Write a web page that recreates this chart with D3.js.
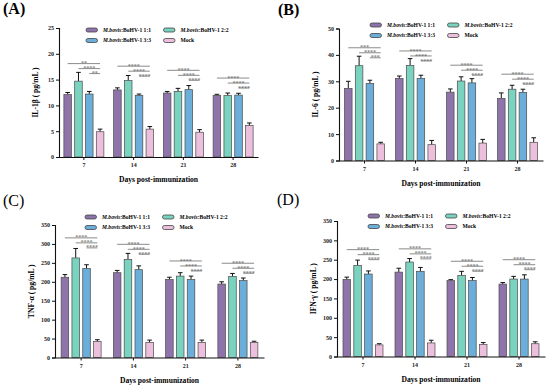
<!DOCTYPE html>
<meta charset="utf-8">
<script src="https://d3js.org/d3.v7.min.js"></script>
<style>
  body { margin: 0; background: #fff; }
  text { font-family: "Liberation Serif", "Times New Roman", serif; font-weight: bold; }
</style>
<div id="my_dataviz"></div>
<script>

// categories
var days = ["7", "14", "21", "28"];
var groups = ["1:1", "2:2", "3:3", "Mock"];
var colors = ["#8e74ab", "#79d3bf", "#6aaed9", "#ecbfdd"];

// IL-1β (A)
var il1bMean = [[12.1, 14.7, 12.2, 4.9], [13.0, 14.8, 11.95, 5.4], [12.4, 12.7, 13.05, 4.8], [11.95, 11.9, 12.0, 6.1]];
var il1bErr = [[0.4, 1.7, 0.5, 0.5], [0.4, 1.0, 0.25, 0.5], [0.3, 0.6, 0.8, 0.5], [0.2, 0.5, 0.35, 0.5]];
var il1bStars = [["**", "****", "**"], ["****", "****", "****"], ["****", "****", "****"], ["****", "****", "****"]];
var il1bBracket = [18.1, 17.6, 16.8, 15.3];
var il1bTicks = [0, 5, 10, 15, 20, 25];

// IL-6 (B)
var il6Mean = [[27.3, 35.9, 29.2, 6.3], [31.1, 36.0, 31.1, 6.0], [25.9, 30.1, 29.4, 6.6], [23.5, 27.0, 25.8, 6.9]];
var il6Err = [[2.7, 3.6, 1.2, 0.6], [0.9, 2.6, 1.2, 1.6], [1.2, 1.6, 1.6, 1.4], [2.1, 1.5, 1.2, 1.7]];
var il6Stars = [["***", "****", "***"], ["****", "****", "****"], ["****", "****", "****"], ["****", "****", "****"]];
var il6Bracket = [42.7, 41.5, 36.1, 32.7];
var il6Ticks = [0, 10, 20, 30, 40, 50];

// TNF-α (C)
var tnfMean = [[212, 263, 235, 42], [224, 259, 232, 40], [206, 215, 206, 40], [194, 214, 203, 40]];
var tnfErr = [[7, 25, 10, 5], [6, 16, 10, 6], [6, 9, 9, 6], [6, 8, 7, 3]];
var tnfStars = [["****", "****", "****"], ["****", "****", "****"], ["****", "****", "****"], ["****", "****", "****"]];
var tnfBracket = [316, 299, 255, 249];
var tnfTicks = [0, 50, 100, 150, 200, 250, 300, 350];

// IFN-γ (D)
var ifnMean = [[199, 235, 213, 30], [218, 244, 220, 35], [196, 209, 196, 31], [187, 200, 200, 33]];
var ifnErr = [[6, 14, 8, 3], [10, 9, 10, 7], [2.5, 11, 8, 5], [4, 7, 11, 5]];
var ifnStars = [["****", "****", "****"], ["****", "****", "****"], ["****", "****", "****"], ["****", "****", "****"]];
var ifnBracket = [276, 278, 246, 250];
var ifnTicks = [0, 50, 100, 150, 200, 250, 300, 350];

var panels = [
  {tag: "(A)", tagBold: true, tx: 3, ty: 14, x0: 59, x1: 258, yTop: 28, yBot: 157, max: 25, ticks: il1bTicks,
   mean: il1bMean, err: il1bErr, stars: il1bStars, bracket: il1bBracket, ylab: "IL-1β ( pg/mL )", lx: 86, ly: 30},
  {tag: "(B)", tagBold: true, tx: 278, ty: 15, x0: 339, x1: 543, yTop: 28.5, yBot: 160.5, max: 50, ticks: il6Ticks,
   mean: il6Mean, err: il6Err, stars: il6Stars, bracket: il6Bracket, ylab: "IL-6 ( pg/mL )", lx: 370, ly: 25},
  {tag: "(C)", tagBold: false, tx: 3, ty: 206, x0: 55, x1: 264, yTop: 225, yBot: 357.5, max: 350, ticks: tnfTicks,
   mean: tnfMean, err: tnfErr, stars: tnfStars, bracket: tnfBracket, ylab: "TNF-α ( pg/mL )", lx: 85, ly: 217},
  {tag: "(D)", tagBold: false, tx: 277, ty: 205, x0: 337, x1: 545, yTop: 221, yBot: 356.5, max: 350, ticks: ifnTicks,
   mean: ifnMean, err: ifnErr, stars: ifnStars, bracket: ifnBracket, ylab: "IFN-γ ( pg/mL )", lx: 368, ly: 216}
];

var svg = d3.select("#my_dataviz")
  .append("svg")
    .attr("width", 550)
    .attr("height", 386);

panels.forEach(function(p) {
  var g = svg.append("g");

  var x = d3.scaleBand().domain(days).range([p.x0, p.x1]);
  var xs = d3.scaleBand().domain(groups).range([-20, 20]).paddingInner(0.3);
  var y = d3.scaleLinear().domain([0, p.max]).range([p.yBot, p.yTop]);

  // panel tag
  g.append("text")
    .attr("x", p.tx).attr("y", p.ty)
    .style("font-size", "16px")
    .style("font-weight", p.tagBold ? "bold" : "normal")
    .text(p.tag);

  // bars
  days.forEach(function(d, i) {
    var cx = x(d) + x.bandwidth() / 2;
    var rows = groups.map(function(k, j) { return {k: k, j: j, v: p.mean[i][j], e: p.err[i][j]}; });

    // error bars (upper only)
    g.selectAll(null).data(rows).enter().append("line")
      .attr("x1", function(r) { return cx + xs(r.k) + xs.bandwidth() / 2; })
      .attr("x2", function(r) { return cx + xs(r.k) + xs.bandwidth() / 2; })
      .attr("y1", function(r) { return y(r.v); })
      .attr("y2", function(r) { return y(r.v + r.e); })
      .attr("stroke", "#111").attr("stroke-width", 1);
    g.selectAll(null).data(rows).enter().append("line")
      .attr("x1", function(r) { return cx + xs(r.k) + xs.bandwidth() / 2 - 2.3; })
      .attr("x2", function(r) { return cx + xs(r.k) + xs.bandwidth() / 2 + 2.3; })
      .attr("y1", function(r) { return y(r.v + r.e); })
      .attr("y2", function(r) { return y(r.v + r.e); })
      .attr("stroke", "#111").attr("stroke-width", 1);

    g.selectAll(null).data(rows).enter().append("rect")
      .attr("x", function(r) { return cx + xs(r.k); })
      .attr("y", function(r) { return y(r.v); })
      .attr("width", xs.bandwidth())
      .attr("height", function(r) { return y(0) - y(r.v); })
      .attr("fill", function(r) { return colors[r.j]; })
      .attr("stroke", "#4a4a4a").attr("stroke-width", 0.7);

    // significance brackets: each group vs Mock
    var xMock = cx + xs("Mock") + xs.bandwidth() / 2;
    [0, 1, 2].forEach(function(j) {
      var ly = y(p.bracket[i]) + j * 5;
      var xa = cx + xs(groups[j]) + xs.bandwidth() / 2;
      g.append("line")
        .attr("x1", xa).attr("x2", xMock)
        .attr("y1", ly).attr("y2", ly)
        .attr("stroke", "#8a8a8a").attr("stroke-width", 1);
      g.append("text")
        .attr("x", (xa + xMock) / 2).attr("y", ly + 1.6)
        .attr("text-anchor", "middle")
        .style("font-size", "6px").style("font-weight", "normal")
        .attr("fill", "#555")
        .text(p.stars[i][j]);
    });
  });

  // axes
  var yAxis = g.append("g")
    .attr("transform", "translate(" + p.x0 + ",0)")
    .call(d3.axisLeft(y).tickValues(p.ticks).tickSize(3).tickPadding(2));
  var xAxis = g.append("g")
    .attr("transform", "translate(0," + p.yBot + ")")
    .call(d3.axisBottom(x).tickSize(3).tickPadding(3).tickSizeOuter(0));
  [xAxis, yAxis].forEach(function(a) {
    a.select(".domain").attr("stroke", "#111").attr("stroke-width", 1.1);
    a.selectAll(".tick line").attr("stroke", "#111").attr("stroke-width", 1);
    a.selectAll(".tick text").style("font-family", "Liberation Serif").style("font-weight", "bold")
      .style("font-size", "6px").attr("fill", "#222");
  });

  // axis titles
  g.append("text")
    .attr("x", (p.x0 + p.x1) / 2).attr("y", p.yBot + 25)
    .attr("text-anchor", "middle")
    .style("font-size", "7.6px")
    .text("Days post-immunization");
  g.append("text")
    .attr("transform", "translate(" + (p.x0 - 21) + "," + ((p.yTop + p.yBot) / 2) + ") rotate(-90)")
    .attr("text-anchor", "middle")
    .style("font-size", "7.6px")
    .text(p.ylab);

  // legend
  groups.forEach(function(k, j) {
    var lx = p.lx + (j % 2) * 77.5;
    var ly = p.ly + Math.floor(j / 2) * 10.5;
    g.append("rect")
      .attr("x", lx).attr("y", ly - 2).attr("width", 11.5).attr("height", 4)
      .attr("rx", 2)
      .attr("fill", colors[j]).attr("stroke", "#444").attr("stroke-width", 0.8);
    var t = g.append("text")
      .attr("x", lx + 17).attr("y", ly + 1.9)
      .style("font-size", "5.6px");
    if (k === "Mock") {
      t.text("Mock");
    } else {
      t.append("tspan").style("font-style", "italic").text("M.bovis");
      t.append("tspan").text(":BoHV-1 " + k);
    }
  });
});

</script>
